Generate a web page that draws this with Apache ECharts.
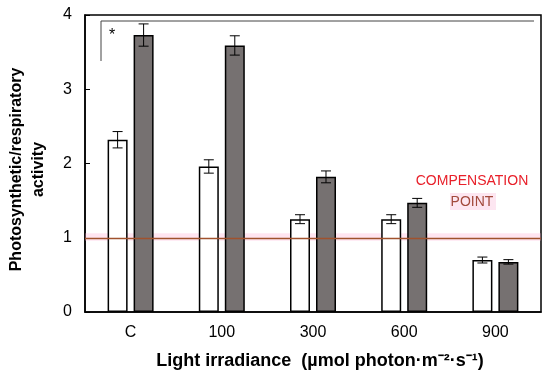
<!DOCTYPE html>
<html><head><meta charset="utf-8">
<script src="https://cdn.jsdelivr.net/npm/echarts@6/dist/echarts.min.js"></script>
<style>html,body{margin:0;padding:0;background:#fff}#c{width:550px;height:382px}</style>
</head><body><div id="c"></div>
<script>
const categories = ['C', '100', '300', '600', '900'];
const whiteValues = [2.32, 1.96, 1.25, 1.25, 0.70];
const whiteErrors = [0.11, 0.09, 0.06, 0.06, 0.04];
const grayValues = [3.73, 3.59, 1.82, 1.47, 0.675];
const grayErrors = [0.15, 0.13, 0.08, 0.06, 0.03];
const yTicks = [0, 1, 2, 3, 4];
const compensation = 1;

const FONT = '"Liberation Sans", Arial, sans-serif';
const chart = echarts.init(document.getElementById('c'));

function errSeries(vals, errs, side) {
  return {
    type: 'custom',
    z: 5,
    data: vals.map((v, i) => [i, v, errs[i]]),
    renderItem: function (params, api) {
      const i = api.value(0), v = api.value(1), e = api.value(2);
      const band = api.size([1, 0])[0];
      const x = api.coord([i, v])[0] + side * band * 0.1425;
      const yt = api.coord([i, v + e])[1];
      const yb = api.coord([i, v - e])[1];
      const w = 5;
      const st = { stroke: '#000', lineWidth: 1 };
      return { type: 'group', children: [
        { type: 'line', shape: { x1: x, y1: yt, x2: x, y2: yb }, style: st },
        { type: 'line', shape: { x1: x - w, y1: yt, x2: x + w, y2: yt }, style: st },
        { type: 'line', shape: { x1: x - w, y1: yb, x2: x + w, y2: yb }, style: st }
      ]};
    }
  };
}

chart.setOption({
  animation: false,
  grid: { left: 85, right: 9, top: 15, bottom: 70, show: true, borderColor: '#000', borderWidth: 1.5,
          containLabel: false, outerBoundsMode: 'none' },
  xAxis: {
    type: 'category', data: categories,
    axisLine: { lineStyle: { color: '#000', width: 1.5 } },
    axisTick: { show: false },
    axisLabel: { color: '#000', fontSize: 16, fontFamily: FONT, margin: 13 },
    name: 'Light irradiance  (µmol photon·m⁻²·s⁻¹)',
    nameLocation: 'middle', nameGap: 40,
    nameTextStyle: { color: '#000', fontSize: 18, fontWeight: 'bold', fontFamily: FONT, padding: [0, 0, 0, 14] }
  },
  yAxis: {
    type: 'value', min: yTicks[0], max: yTicks[yTicks.length - 1], interval: 1,
    axisLine: { show: true, lineStyle: { color: '#000', width: 1.5 } },
    axisTick: { show: true, inside: true, length: 5, lineStyle: { color: '#000' } },
    splitLine: { show: false },
    axisLabel: { color: '#000', fontSize: 16, fontFamily: FONT, margin: 13 },
    name: 'Photosynthetic/respiratory\nactivity',
    nameLocation: 'middle', nameGap: 35,
    nameTextStyle: { color: '#000', fontSize: 16, fontWeight: 'bold', fontFamily: FONT, lineHeight: 22, padding: [0, 12, 0, 0] }
  },
  series: [
    { type: 'bar', data: whiteValues, barWidth: 20, barGap: '30%',
      itemStyle: { color: '#fff', borderColor: '#000', borderWidth: 1.5 } },
    { type: 'bar', data: grayValues, barWidth: 20,
      itemStyle: { color: '#767171', borderColor: '#000', borderWidth: 1.5 } },
    errSeries(whiteValues, whiteErrors, -1),
    errSeries(grayValues, grayErrors, 1),
    { type: 'line', data: [], z: 10,
      markArea: { silent: true, itemStyle: { color: 'rgba(255,170,210,0.3)' },
        data: [[{ yAxis: compensation - 0.04 }, { yAxis: compensation + 0.06 }]] },
      markLine: { silent: true, symbol: 'none', label: { show: false },
        lineStyle: { color: '#a0522d', width: 1.3, type: 'solid' },
        data: [{ yAxis: compensation }] } }
  ],
  graphic: [
    { type: 'polyline', z: 20, shape: { points: [[101, 61], [101, 21], [534, 21]] },
      style: { stroke: '#444', lineWidth: 1, fill: null } },
    { type: 'text', z: 20, x: 112, y: 36, style: { text: '*', font: '16px ' + FONT, fill: '#000', align: 'center', verticalAlign: 'middle' } },
    { type: 'rect', z: 19, shape: { x: 450, y: 193, width: 46, height: 17 }, style: { fill: '#fde6f1' } },
    { type: 'text', z: 20, x: 472, y: 181, style: { text: 'COMPENSATION', font: '14px ' + FONT, fill: '#e8202a', align: 'center', verticalAlign: 'middle' } },
    { type: 'text', z: 20, x: 472, y: 202, style: { text: 'POINT', font: '14px ' + FONT, fill: '#a24a3c', align: 'center', verticalAlign: 'middle' } }
  ]
});
</script></body></html>
